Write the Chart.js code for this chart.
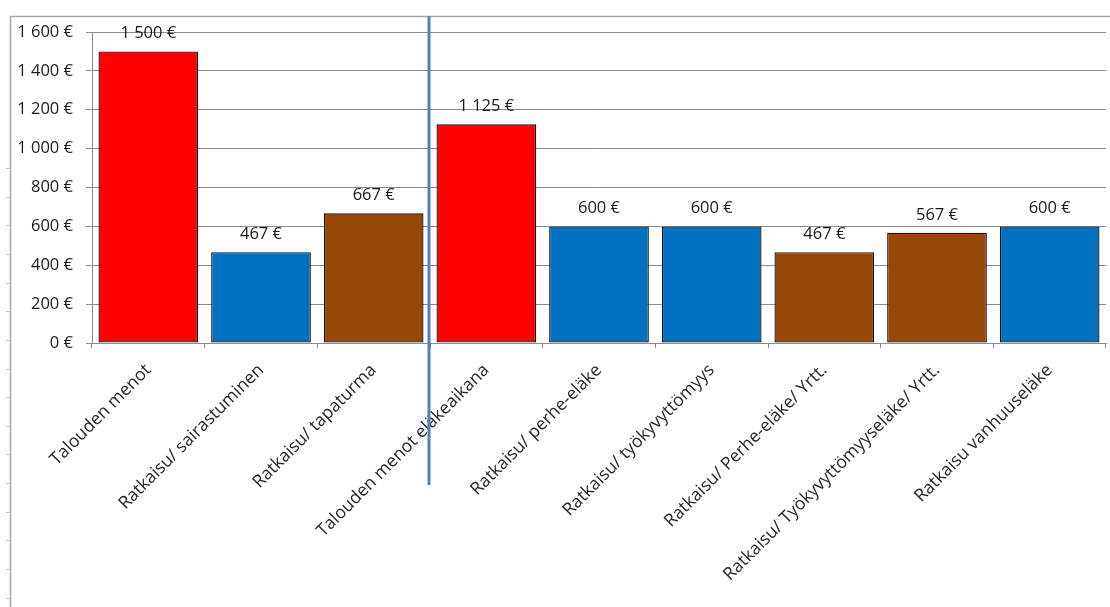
<!DOCTYPE html>
<html>
<head>
<meta charset="utf-8">
<script src="https://cdn.jsdelivr.net/npm/chart.js@4/dist/chart.umd.min.js"></script>
<style>
  html, body { margin: 0; padding: 0; background: #ffffff; }
  #wrap { width: 1110px; height: 607px; position: relative; }
</style>
</head>
<body>
<div id="wrap"><canvas id="c" width="1110" height="607"></canvas></div>
<script>
const categories = [
  "Talouden menot",
  "Ratkaisu/ sairastuminen",
  "Ratkaisu/ tapaturma",
  "Talouden menot eläkeaikana",
  "Ratkaisu/ perhe-eläke",
  "Ratkaisu/ työkyvyttömyys",
  "Ratkaisu/ Perhe-eläke/ Yrtt.",
  "Ratkaisu/ Työkyvyttömyyseläke/ Yrtt.",
  "Ratkaisu vanhuuseläke"
];
const values = [1500, 467, 667, 1125, 600, 600, 467, 567, 600];
const yTicks = [0, 200, 400, 600, 800, 1000, 1200, 1400, 1600];
const barColors = ["#FF0000", "#0070C0", "#974706", "#FF0000", "#0070C0", "#0070C0", "#974706", "#974706", "#0070C0"];

function fmtEuro(v) {
  const s = String(Math.round(v)).replace(/\B(?=(\d{3})+(?!\d))/g, " ");
  return s + " €";
}

const FONT = "'Open Sans', 'DejaVu Sans', sans-serif";

const framePlugin = {
  id: "frame",
  beforeDraw(chart) {
    const ctx = chart.ctx;
    ctx.save();
    ctx.strokeStyle = "#a6a6a6";
    ctx.lineWidth = 1.5;
    ctx.beginPath();
    ctx.moveTo(10, 16.5); ctx.lineTo(1110, 16.5);
    ctx.moveTo(10.5, 16); ctx.lineTo(10.5, 607);
    ctx.stroke();
    ctx.strokeStyle = "#c8c8c8";
    ctx.lineWidth = 1;
    ctx.beginPath();
    for (let y = 168; y < 607; y += 28.65) {
      const yy = Math.round(y) + 0.5;
      ctx.moveTo(6, yy); ctx.lineTo(10, yy);
    }
    ctx.stroke();
    ctx.restore();
  }
};

const valueLabels = {
  id: "valueLabels",
  afterDatasetsDraw(chart) {
    const ctx = chart.ctx;
    ctx.save();
    ctx.font = "16.5px " + FONT;
    ctx.fillStyle = "#1a1a1a";
    ctx.textAlign = "center";
    ctx.textBaseline = "alphabetic";
    const meta = chart.getDatasetMeta(0);
    meta.data.forEach((bar, i) => {
      ctx.fillText(fmtEuro(chart.data.datasets[0].data[i]), bar.x, bar.y - 13);
    });
    ctx.restore();
  }
};

const dividerLine = {
  id: "divider",
  afterDraw(chart) {
    const xs = chart.scales.x;
    const x = (xs.getPixelForValue(2) + xs.getPixelForValue(3)) / 2 - 1;
    const ctx = chart.ctx;
    ctx.save();
    ctx.strokeStyle = "#4F81BD";
    ctx.lineWidth = 3;
    ctx.beginPath();
    ctx.moveTo(x, 16);
    ctx.lineTo(x, 485);
    ctx.stroke();
    ctx.restore();
  }
};

new Chart(document.getElementById("c"), {
  type: "bar",
  data: {
    labels: categories,
    datasets: [{
      data: values,
      backgroundColor: barColors,
      borderColor: "#111111",
      borderWidth: 1.3,
      borderSkipped: false,
      barPercentage: 0.885,
      categoryPercentage: 1.0
    }]
  },
  options: {
    responsive: false,
    animation: false,
    devicePixelRatio: 1,
    layout: { padding: { top: 32, right: 4, bottom: 0, left: 10 } },
    plugins: { legend: { display: false }, tooltip: { enabled: false } },
    scales: {
      x: {
        offset: true,
        grid: {
          offset: true,
          drawOnChartArea: false,
          drawTicks: true,
          tickLength: 5,
          color: "#8c8c8c"
        },
        border: { display: true, color: "#8c8c8c", width: 1 },
        ticks: {
          minRotation: 45,
          maxRotation: 45,
          autoSkip: false,
          padding: 12,
          color: "#262626",
          font: { family: FONT, size: 17.5 }
        },
        afterFit(scale) { scale.height = 264; }
      },
      y: {
        min: 0,
        max: 1600,
        afterBuildTicks(scale) { scale.ticks = yTicks.map(v => ({ value: v })); },
        grid: {
          color: "#8c8c8c",
          lineWidth: 1,
          tickLength: 6,
          drawTicks: true
        },
        border: { display: true, color: "#8c8c8c", width: 1 },
        ticks: {
          padding: 13,
          color: "#1a1a1a",
          font: { family: FONT, size: 16.5 },
          callback: (v) => fmtEuro(v)
        },
        afterFit(scale) { scale.width = 82; }
      }
    }
  },
  plugins: [framePlugin, valueLabels, dividerLine]
});
</script>
</body>
</html>
